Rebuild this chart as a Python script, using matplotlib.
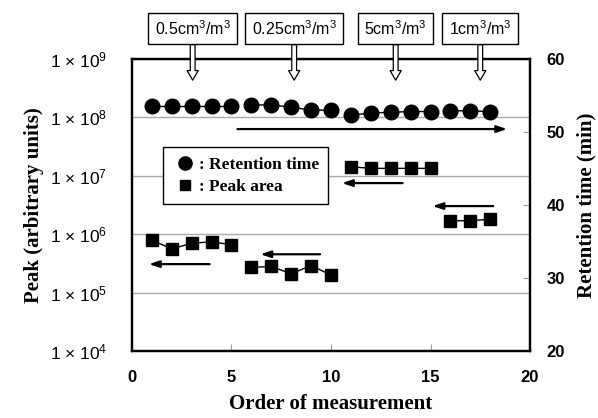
import matplotlib
matplotlib.use("Agg")
import matplotlib.pyplot as plt
from matplotlib.lines import Line2D

plt.rcParams['font.family'] = ['Liberation Sans', 'DejaVu Sans']
plt.rcParams['mathtext.fontset'] = 'custom'
plt.rcParams['mathtext.rm'] = 'Liberation Sans'
plt.rcParams['mathtext.it'] = 'Liberation Sans'
plt.rcParams['mathtext.bf'] = 'Liberation Sans:bold'

# runs of measurements (one run per concentration)
runs = [[1, 2, 3, 4, 5],
        [6, 7, 8, 9, 10],
        [11, 12, 13, 14, 15],
        [16, 17, 18]]
retention = [[53.55, 53.55, 53.55, 53.55, 53.55],
             [53.7, 53.7, 53.4, 53.0, 53.0],
             [52.3, 52.6, 52.7, 52.8, 52.8],
             [52.9, 52.9, 52.8]]
peak_area = [[7.9e5, 5.6e5, 7.0e5, 7.4e5, 6.6e5],
             [2.7e5, 2.8e5, 2.1e5, 2.9e5, 2.0e5],
             [1.43e7, 1.34e7, 1.34e7, 1.34e7, 1.34e7],
             [1.7e6, 1.7e6, 1.8e6]]
conc_labels = ["0.5cm$^3$/m$^3$", "0.25cm$^3$/m$^3$", "5cm$^3$/m$^3$", "1cm$^3$/m$^3$"]
conc_x = [3.05, 8.15, 13.25, 17.5]

left_ticks = [1e4, 1e5, 1e6, 1e7, 1e8, 1e9]
left_labels = ["1 \u00d7 10$^{%d}$" % i for i in range(4, 10)]
right_ticks = [20, 30, 40, 50, 60]
x_ticks = [0, 5, 10, 15, 20]

serif_bold = dict(family='Liberation Serif', weight='bold')

fig = plt.figure(figsize=(5.98, 4.18), dpi=100)
ax = fig.add_axes([0.2207, 0.1603, 0.6656, 0.6986])
ax2 = ax.twinx()

# peak area (log, left)
for x, y in zip(runs, peak_area):
    ax.plot(x, y, color='black', lw=1, marker='s', ms=8, mfc='black', mec='black')
ax.set_yscale('log')
ax.set_ylim(1e4, 1e9)
ax.set_xlim(0, 20)
ax.set_yticks(left_ticks)
ax.set_yticklabels(left_labels, fontsize=12.5)
ax.minorticks_off()
ax.tick_params(axis='y', length=0, pad=18)
ax.set_xticks(x_ticks)
ax.tick_params(axis='x', direction='in', length=5, color='#999999', pad=14, labelsize=12)
for lab in ax.get_xticklabels():
    lab.set_fontweight('bold')
ax.yaxis.grid(True, color='#aaaaaa', lw=1)
ax.set_xlabel("Order of measurement", fontsize=15, labelpad=6, **serif_bold)
ax.set_ylabel("Peak (arbitrary units)", fontsize=15, labelpad=4, **serif_bold)

# retention time (linear, right)
for x, y in zip(runs, retention):
    ax2.plot(x, y, color='black', lw=1, marker='o', ms=10.5, mfc='black', mec='black')
ax2.set_ylim(20, 60)
ax2.set_yticks(right_ticks)
ax2.tick_params(axis='y', direction='in', length=5, color='#999999', pad=12, labelsize=12)
for lab in ax2.get_yticklabels():
    lab.set_fontweight('bold')
ax2.set_ylabel("Retention time (min)", fontsize=15, labelpad=8, **serif_bold)

for a in (ax, ax2):
    for sp in a.spines.values():
        sp.set_linewidth(1.6)

# direction arrows
arrows = [((5.3, 50.4), (18.85, 50.4)),
          ((13.6, 43.0), (10.55, 43.0)),
          ((18.15, 39.85), (15.1, 39.85)),
          ((9.45, 33.25), (6.45, 33.25)),
          ((3.9, 31.9), (0.85, 31.9))]
for start, end in arrows:
    ax2.annotate("", xy=end, xytext=start,
                 arrowprops=dict(arrowstyle='-|>,head_length=0.6,head_width=0.2',
                                 color='black', lw=1.6, shrinkA=0, shrinkB=0))

# concentration callouts with hollow arrows
for lab, x in zip(conc_labels, conc_x):
    ax2.annotate(lab, xy=(x, 57.1), xycoords='data',
                 xytext=(x, 0.932), textcoords=('data', 'figure fraction'),
                 ha='center', va='center', fontsize=11.5,
                 bbox=dict(boxstyle='square,pad=0.4', fc='white', ec='black', lw=1),
                 arrowprops=dict(arrowstyle='simple,head_length=0.6,head_width=0.7,tail_width=0.3',
                                 fc='white', ec='black', lw=0.9, shrinkA=0, shrinkB=0))

handles = [Line2D([], [], ls='none', marker='o', ms=9.5, color='black'),
           Line2D([], [], ls='none', marker='s', ms=7.5, color='black')]
leg = ax2.legend(handles, [": Retention time", ": Peak area"],
                 loc='upper left', bbox_to_anchor=(0.078, 0.699), borderaxespad=0,
                 prop=dict(family='Liberation Serif', weight='bold', size=12.5),
                 handletextpad=0.1, handlelength=1.4, fancybox=False,
                 framealpha=1, edgecolor='black', borderpad=0.55, labelspacing=0.35)
leg.get_frame().set_linewidth(1)

fig.savefig("out.png", dpi=100)
